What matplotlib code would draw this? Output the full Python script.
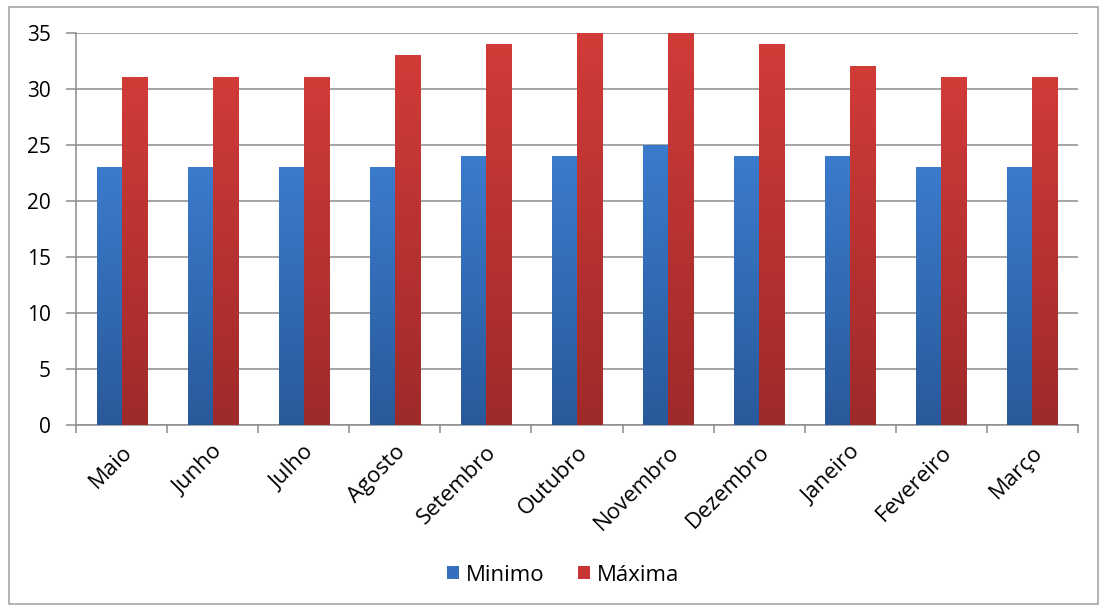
import matplotlib
matplotlib.use('Agg')
import matplotlib.pyplot as plt
import numpy as np
from matplotlib.colors import LinearSegmentedColormap
from matplotlib.patches import Patch, Rectangle

months = ['Maio', 'Junho', 'Julho', 'Agosto', 'Setembro', 'Outubro', 'Novembro',
          'Dezembro', 'Janeiro', 'Fevereiro', 'Março']
minimo = [23, 23, 23, 23, 24, 24, 25, 24, 24, 23, 23]
maxima = [31, 31, 31, 33, 34, 35, 35, 34, 32, 31, 31]

plt.rcParams['font.family'] = ['Open Sans', 'DejaVu Sans']

fig = plt.figure(figsize=(11, 6.06), dpi=100)
ax = fig.add_axes([0.0691, 0.2987, 0.9109, 0.6468])

# outer border like the Excel chart area
fig.patches.append(Rectangle((0.008, 0.004), 0.99, 0.985, transform=fig.transFigure,
                             fill=False, edgecolor='#a6a6a6', linewidth=1.2))

blue_cmap = LinearSegmentedColormap.from_list('b', ['#29599a', '#3b7bcc'])
red_cmap = LinearSegmentedColormap.from_list('r', ['#9e2a2a', '#d13b38'])
grad = np.linspace(0, 1, 256).reshape(-1, 1)

x = np.arange(len(months))
w = 0.275
bars_min = ax.bar(x - w / 2, minimo, w, color='none', zorder=3)
bars_max = ax.bar(x + w / 2, maxima, w, color='none', zorder=3)

# fill each bar with a vertical gradient, dark at the bottom
for bars, cmap in [(bars_min, blue_cmap), (bars_max, red_cmap)]:
    for b in bars:
        x0, h = b.get_x(), b.get_height()
        ax.imshow(grad, extent=[x0, x0 + b.get_width(), 0, h], origin='lower',
                  aspect='auto', cmap=cmap, zorder=3)

ax.set_xlim(-0.5, len(months) - 0.5)
ax.set_ylim(0, 35)
ax.set_yticks(range(0, 36, 5))
ax.yaxis.grid(True, color='#8c8c8c', linewidth=1.1)
ax.set_axisbelow(True)

for s in ['top', 'right']:
    ax.spines[s].set_visible(False)
ax.spines['left'].set_color('#8c8c8c')
ax.spines['bottom'].set_color('#8c8c8c')
ax.spines['left'].set_linewidth(1.1)
ax.spines['bottom'].set_linewidth(1.1)

ax.set_xticks(x)
ax.set_xticklabels(months, rotation=45, ha='right', rotation_mode='anchor', fontsize=16)
ax.set_xticks(np.arange(-0.5, len(months), 1), minor=True)
ax.tick_params(axis='x', which='major', length=0, pad=12)
ax.tick_params(axis='x', which='minor', length=6, color='#8c8c8c', width=1.1)
ax.tick_params(axis='y', length=7, color='#8c8c8c', width=1.1, labelsize=15, pad=11)

handles = [Patch(facecolor='#3670bd', label='Minimo'),
           Patch(facecolor='#c83535', label='Máxima')]
fig.legend(handles=handles, loc='center', bbox_to_anchor=(0.512, 0.051), ncol=2,
           frameon=False, fontsize=16, handlelength=0.55, handleheight=0.55,
           handletextpad=0.3, columnspacing=1.5)

fig.savefig('out.png', dpi=100)
